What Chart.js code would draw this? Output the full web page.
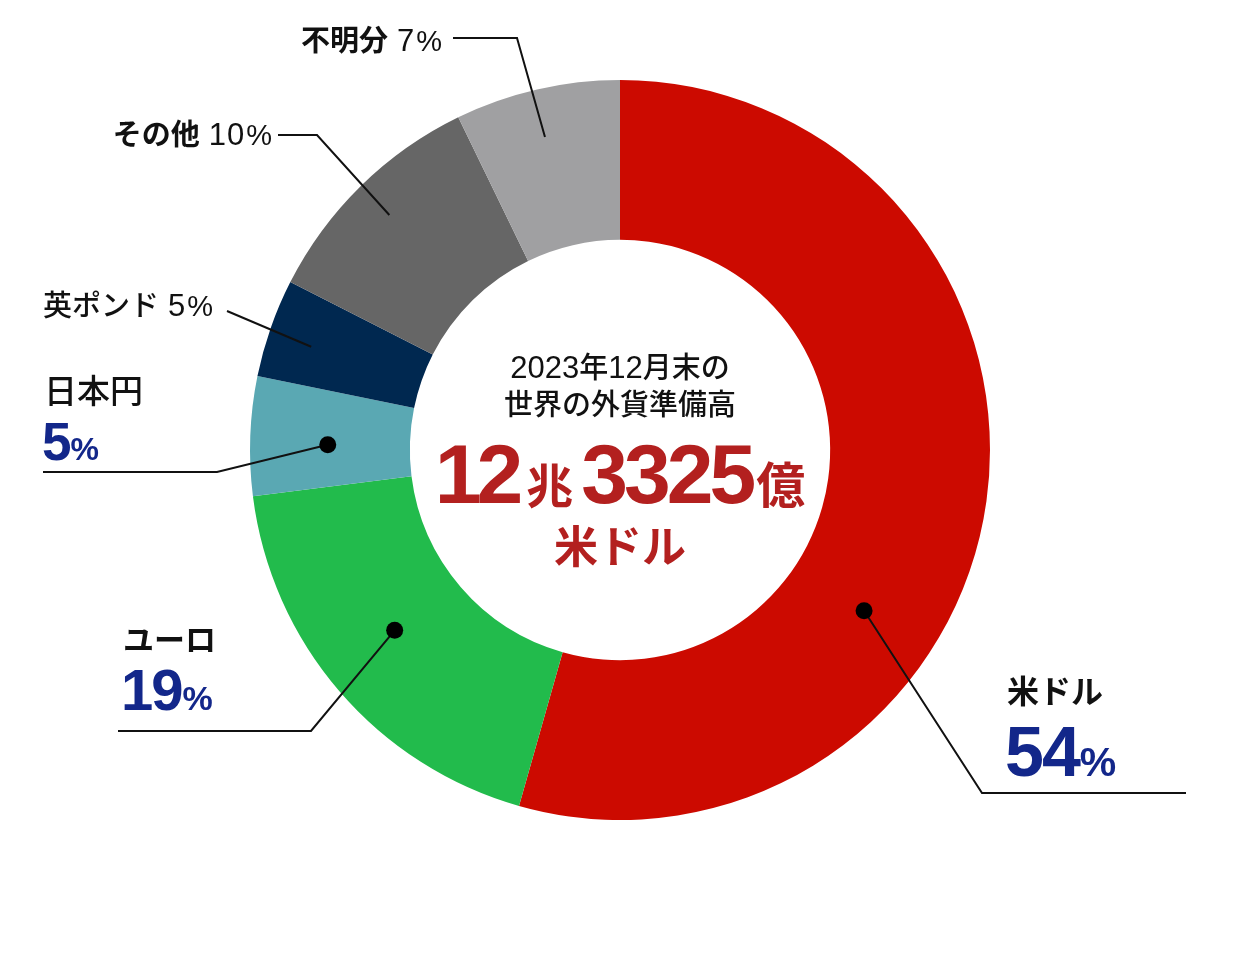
<!DOCTYPE html>
<html>
<head>
<meta charset="utf-8">
<script src="https://cdn.jsdelivr.net/npm/chart.js@4/dist/chart.umd.min.js"></script>
<style>
html,body{margin:0;padding:0;background:#fff;}
#c{display:block;}
</style>
</head>
<body>
<canvas id="c" width="1240" height="980"></canvas>
<script>
// ---- data ----
const categories = ['米ドル', 'ユーロ', '日本円', '英ポンド', 'その他', '不明分'];
const shares = [54.4, 18.6, 5.2, 4.3, 10.3, 7.2];          // share of total reserves (%)
const shownPercents = ['54', '19', '5', '5', '10', '7']; // labels as printed
const colors = ['#CC0A00', '#22BB4C', '#5AA8B3', '#002850', '#666666', '#A0A0A2'];
const centerLines = ['2023年12月末の', '世界の外貨準備高'];
const totalParts = ['12', '兆', '3325', '億'];
const totalUnit = '米ドル';

// ---- label layout (relative to doughnut centre) ----
const JP = '"Noto Sans CJK JP", sans-serif';
const LAT = '"Liberation Sans", Arial, sans-serif';
const BLUE = '#13278A';
const CRED = '#B3201F';

const labelLayout = [
  {frac:0.63, rf:0.79, dot:true, pts:[[362,343],[566,343]], style:'stack',
   nameX:387, nameY:253, nameW:700, nameSize:32, pctY:326, numSize:70, pctSize:41},
  {frac:0.53, rf:0.78, dot:true, pts:[[-309,281],[-502,281]], style:'stack',
   nameX:-497, nameY:201, nameW:700, nameSize:31, pctY:260, numSize:58, pctSize:34},
  {frac:0.44, rf:0.79, dot:true, pts:[[-403,22],[-577,22]], style:'stack',
   nameX:-576, nameY:-47, nameW:500, nameSize:33, pctY:10, numSize:53, pctSize:32},
  {frac:0.45, rf:0.88, dot:false, pts:[[-393,-139]], style:'inline',
   textX:-407, textY:-134, nameW:500},
  {frac:0.50, rf:0.89, dot:false, pts:[[-303,-315],[-342,-315]], style:'inline',
   textX:-348, textY:-305, nameW:700},
  {frac:0.48, rf:0.87, dot:false, pts:[[-103,-412],[-167,-412]], style:'inline',
   textX:-178, textY:-399, nameW:700}
];

function runWidth(ctx, r){
  ctx.font = r.font;
  ctx.letterSpacing = (r.ls||0)+'px';
  const w = ctx.measureText(r.text).width;
  ctx.letterSpacing = '0px';
  return w + (r.gap||0);
}
function drawRuns(ctx, runs, x, y, align){
  let total = 0;
  runs.forEach(r => total += runWidth(ctx, r));
  let cx = align === 'right' ? x - total : (align === 'center' ? x - total/2 : x);
  ctx.textBaseline = 'alphabetic';
  ctx.textAlign = 'left';
  runs.forEach(r => {
    ctx.font = r.font;
    ctx.fillStyle = r.color || '#111';
    ctx.letterSpacing = (r.ls||0)+'px';
    ctx.fillText(r.text, cx + (r.pre||0), y);
    ctx.letterSpacing = '0px';
    cx += runWidth(ctx, r);
  });
}

const annotate = {
  id:'annotate',
  afterDatasetsDraw(chart){
    const ctx = chart.ctx;
    const arcs = chart.getDatasetMeta(0).data;
    const cx = arcs[0].x, cy = arcs[0].y;
    ctx.save();
    // leader lines + labels
    arcs.forEach((arc, i) => {
      const L = labelLayout[i];
      const p = arc.getProps(['startAngle','endAngle','outerRadius'], true);
      const a = p.startAngle + L.frac*(p.endAngle - p.startAngle);
      const ax = cx + Math.cos(a)*p.outerRadius*L.rf;
      const ay = cy + Math.sin(a)*p.outerRadius*L.rf;
      ctx.strokeStyle = '#111';
      ctx.lineWidth = 2;
      ctx.beginPath();
      ctx.moveTo(ax, ay);
      L.pts.forEach(q => ctx.lineTo(cx+q[0], cy+q[1]));
      ctx.stroke();
      if (L.dot){
        ctx.fillStyle = '#000';
        ctx.beginPath(); ctx.arc(ax, ay, 8.5, 0, Math.PI*2); ctx.fill();
      }
      if (L.style === 'stack'){
        drawRuns(ctx, [{text:categories[i], font:`${L.nameW} ${L.nameSize}px ${JP}`, color:'#111'}],
                 cx+L.nameX, cy+L.nameY, 'left');
        drawRuns(ctx, [
          {text:shownPercents[i], font:`bold ${L.numSize}px ${LAT}`, color:BLUE, ls:-2, gap:1},
          {text:'%', font:`bold ${L.pctSize}px ${LAT}`, color:BLUE}
        ], cx+L.nameX-2, cy+L.pctY, 'left');
      } else {
        drawRuns(ctx, [
          {text:categories[i], font:`${L.nameW} 29px ${JP}`, color:'#111', gap:9},
          {text:shownPercents[i], font:`31px ${LAT}`, color:'#111', ls:1, gap:1},
          {text:'%', font:`29px ${LAT}`, color:'#111'}
        ], cx+L.textX, cy+L.textY, 'right');
      }
    });
    // centre text
    drawRuns(ctx, [
      {text:'2023', font:`31px ${LAT}`, color:'#111'},
      {text:'年', font:`500 29px ${JP}`, color:'#111'},
      {text:'12', font:`31px ${LAT}`, color:'#111'},
      {text:'月末の', font:`500 29px ${JP}`, color:'#111'}
    ], cx, cy-72, 'center');
    drawRuns(ctx, [{text:centerLines[1], font:`500 29px ${JP}`, color:'#111'}], cx, cy-35, 'center');
    drawRuns(ctx, [
      {text:totalParts[0], font:`bold 84px ${LAT}`, color:CRED, ls:-5, gap:8},
      {text:totalParts[1], font:`bold 47px ${JP}`, color:CRED, gap:8},
      {text:totalParts[2], font:`bold 84px ${LAT}`, color:CRED, ls:-4, gap:4},
      {text:totalParts[3], font:`bold 49px ${JP}`, color:CRED}
    ], cx, cy+53, 'center');
    drawRuns(ctx, [{text:totalUnit, font:`bold 44px ${JP}`, color:CRED}], cx, cy+113, 'center');
    ctx.restore();
  }
};

new Chart(document.getElementById('c'), {
  type:'doughnut',
  data:{
    labels:categories,
    datasets:[{data:shares, backgroundColor:colors, borderWidth:0}]
  },
  options:{
    responsive:false,
    animation:false,
    cutout:'56.8%',
    layout:{padding:{top:80, bottom:160, left:0, right:0}},
    plugins:{legend:{display:false}, tooltip:{enabled:false}}
  },
  plugins:[annotate]
});
</script>
</body>
</html>
